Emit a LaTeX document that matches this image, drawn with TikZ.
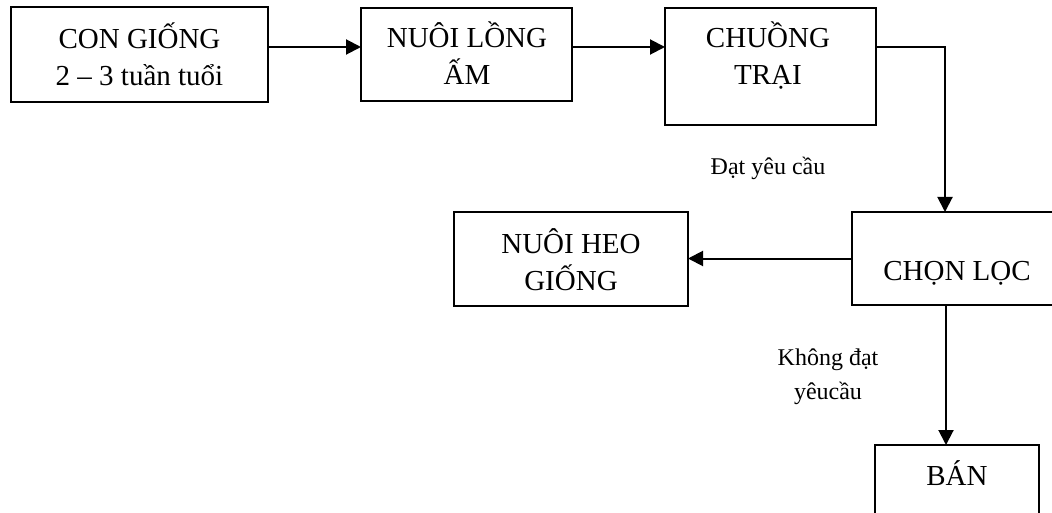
\documentclass[tikz,border=0pt]{standalone}
\usepackage{fontspec}
\setmainfont{Liberation Serif}
\usetikzlibrary{arrows.meta,calc}
\begin{document}
\begin{tikzpicture}[x=1pt,y=-1pt,
  box/.style={draw, line width=2pt, inner sep=0pt, outer sep=0pt},
  txt/.style={font=\fontsize{29}{37}\selectfont, align=center, inner sep=0pt, anchor=base},
  small/.style={font=\fontsize{24}{34}\selectfont, align=center, inner sep=0pt, anchor=base},
  arr/.style={line width=2pt, -{Triangle[length=15pt,width=15pt]}}]
\useasboundingbox (0,0) rectangle (1052,513);
\clip (0,0) rectangle (1052,513);
% boxes
\node[box, minimum width=257pt, minimum height=95pt] (b1) at (139.5,54.5) {};
\node[box, minimum width=211pt, minimum height=93pt] (b2) at (466.5,54.5) {};
\node[box, minimum width=211pt, minimum height=117pt] (b3) at (770.5,66.5) {};
\node[box, minimum width=212pt, minimum height=93pt] (b4) at (958,258.5) {};
\node[box, minimum width=234pt, minimum height=94pt] (b5) at (571,259) {};
\node[box, minimum width=164pt, minimum height=95pt] (b6) at (957,492.5) {};
% texts (anchor=base is the baseline of the last line)
\node[txt] (t1) at (139.5,86) {CON GIỐNG\\2 – 3 tuần tuổi};
\node[txt] (t2) at (467,85) {NUÔI LỒNG\\ẤM};
\node[txt] (t3) at (768,85) {CHUỒNG\\TRẠI};
\node[txt] (t4) at (957,280) {CHỌN LỌC};
\node[txt] (t5) at (571,290) {NUÔI HEO\\GIỐNG};
\node[txt] (t6) at (957,485) {BÁN};
\node[small] (l1) at (768,175) {Đạt yêu cầu};
\node[small] (l2) at (828,399) {Không đạt\\yêucầu};
% connectors
\draw[arr] ([yshift=7.5pt]b1.east) -- ([yshift=7.5pt]b1.east -| b2.west);
\draw[arr] ([yshift=7.5pt]b2.east) -- ([yshift=7.5pt]b2.east -| b3.west);
\draw[arr] ([yshift=19.5pt]b3.east) -| ([xshift=-13pt]b4.north);
\draw[arr] (b4.west) -- (b4.west -| b5.east);
\draw[arr] ([xshift=-12pt]b4.south) -- ([xshift=-12pt]b4.south |- b6.north);
\end{tikzpicture}
\end{document}
